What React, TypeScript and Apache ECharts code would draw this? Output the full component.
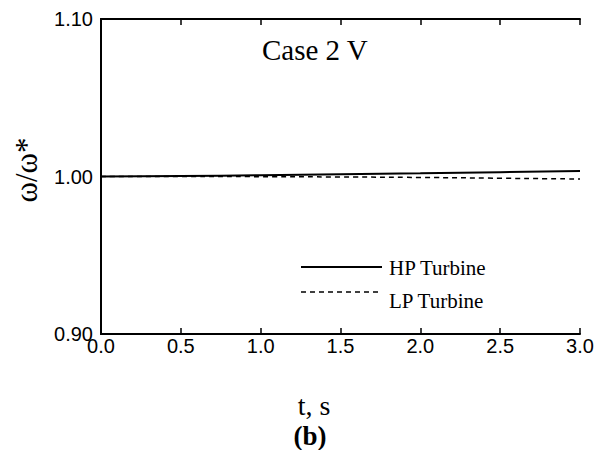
import React, { useEffect, useRef } from "react";
import * as echarts from "echarts";

const times = [0, 0.5, 1.0, 1.5, 2.0, 2.5, 3.0];
const hpTurbine = [1.0, 1.0003, 1.0008, 1.0014, 1.002, 1.0027, 1.0035];
const lpTurbine = [1.0, 1.0, 0.9999, 0.9997, 0.9994, 0.9989, 0.9984];
const seriesNames = ["HP Turbine", "LP Turbine"];

const serif = "Liberation Serif";

export default function App() {
  const ref = useRef<HTMLDivElement>(null);
  useEffect(() => {
    const chart = echarts.init(ref.current!, null, { renderer: "svg" });
    const axisLine = { show: true, lineStyle: { color: "#000", width: 2 } };
    const labelFont = { fontFamily: "Liberation Sans", fontSize: 20, color: "#000" };
    const txt = (text: string, size: number, extra: any = {}) => ({
      text, fontFamily: serif, fontSize: size, fill: "#000", ...extra,
    });
    chart.setOption({
      animation: false,
      grid: { left: 101, right: 22, top: 19, bottom: 116, containLabel: false },
      xAxis: [
        {
          type: "value", min: 0, max: 3, interval: 0.5, position: "bottom",
          axisLine, axisTick: { show: true, inside: true, length: 6, lineStyle: { color: "#000", width: 1.5 } },
          axisLabel: { ...labelFont, margin: 2, formatter: (v: number) => v.toFixed(1) },
          splitLine: { show: false },
        },
        {
          type: "value", min: 0, max: 3, interval: 0.5, position: "top",
          axisLine, axisTick: { show: true, inside: true, length: 6, lineStyle: { color: "#000", width: 1.5 } },
          axisLabel: { show: false }, splitLine: { show: false },
        },
      ],
      yAxis: [
        {
          type: "value", min: 0.9, max: 1.1, interval: 0.1, position: "left",
          axisLine, axisTick: { show: false },
          axisLabel: { ...labelFont, margin: 8, formatter: (v: number) => v.toFixed(2) },
          splitLine: { show: false },
        },
        {
          type: "value", min: 0.9, max: 1.1, interval: 0.1, position: "right",
          axisLine, axisTick: { show: false }, axisLabel: { show: false }, splitLine: { show: false },
        },
      ],
      series: [
        {
          name: seriesNames[0], type: "line", showSymbol: false, smooth: true,
          data: times.map((t, i) => [t, hpTurbine[i]]),
          lineStyle: { color: "#000", width: 2 },
        },
        {
          name: seriesNames[1], type: "line", showSymbol: false, smooth: true,
          data: times.map((t, i) => [t, lpTurbine[i]]),
          lineStyle: { color: "#000", width: 1.5, type: [5, 4] },
        },
      ],
      graphic: [
        { type: "text", x: 262, y: 50, style: txt("Case 2 V", 29, { verticalAlign: "middle" }) },
        { type: "line", shape: { x1: 301, y1: 267, x2: 382, y2: 267 }, style: { stroke: "#000", lineWidth: 2 } },
        { type: "text", x: 389, y: 268, style: txt(seriesNames[0], 21, { verticalAlign: "middle" }) },
        { type: "line", shape: { x1: 301, y1: 292, x2: 382, y2: 292 }, style: { stroke: "#000", lineWidth: 1.5, lineDash: [5, 4] } },
        { type: "text", x: 389, y: 301, style: txt(seriesNames[1], 21, { verticalAlign: "middle" }) },
        { type: "text", x: 314, y: 405, style: txt("t, s", 28, { align: "center", verticalAlign: "middle" }) },
        { type: "text", x: 310, y: 436, style: txt("(b)", 27, { fontWeight: "bold", align: "center", verticalAlign: "middle" }) },
        { type: "text", x: 26, y: 170, rotation: Math.PI / 2, style: txt("ω/ω*", 31, { align: "center", verticalAlign: "middle" }) },
      ],
    });
    return () => chart.dispose();
  }, []);
  return <div ref={ref} style={{ position: "fixed", left: 0, top: 0, width: 602, height: 450, background: "#fff" }} />;
}
